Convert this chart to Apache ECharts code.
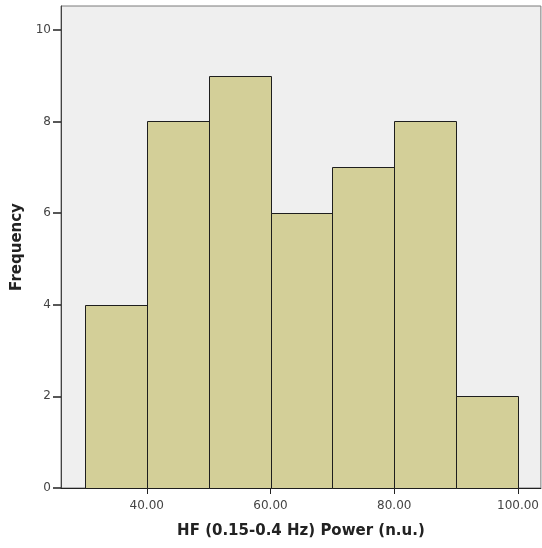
<!DOCTYPE html>
<html>
<head>
<meta charset="utf-8">
<script src="https://cdn.jsdelivr.net/npm/echarts@6/dist/echarts.min.js"></script>
<style>
  html, body { margin: 0; padding: 0; background: #ffffff; }
  #chart { width: 542px; height: 548px; }
</style>
</head>
<body>
<div id="chart"></div>
<script>
// Histogram bins: lower edge, upper edge, count
const binStarts = [30, 40, 50, 60, 70, 80, 90];
const binEnds = [40, 50, 60, 70, 80, 90, 100];
const frequencies = [4, 8, 9, 6, 7, 8, 2];

const xTicks = [40, 60, 80, 100];
const yTicks = [0, 2, 4, 6, 8, 10];

const xTitle = 'HF (0.15-0.4 Hz) Power (n.u.)';
const yTitle = 'Frequency';

const bins = binStarts.map((s, i) => [s, binEnds[i], frequencies[i]]);

const chart = echarts.init(document.getElementById('chart'), null, { renderer: 'canvas' });

chart.setOption({
  animation: false,
  backgroundColor: '#ffffff',
  grid: {
    left: 61, top: 6, right: -1, bottom: 60,
    show: true,
    backgroundColor: '#efefef',
    borderColor: '#7a7a7a',
    borderWidth: 1
  },
  xAxis: {
    type: 'value',
    min: 26.14,
    max: 103.7,
    name: xTitle,
    nameLocation: 'middle',
    nameGap: 36,
    nameTextStyle: { fontFamily: 'DejaVu Sans', fontWeight: 'bold', fontSize: 15, color: '#222' },
    axisLine: { show: true, onZero: false, lineStyle: { color: '#222', width: 1 } },
    axisTick: { show: true, customValues: xTicks, length: 6, lineStyle: { color: '#222' } },
    axisLabel: {
      customValues: xTicks,
      formatter: v => v.toFixed(2),
      fontFamily: 'DejaVu Sans', fontSize: 12, color: '#444', margin: 12
    },
    splitLine: { show: false }
  },
  yAxis: {
    type: 'value',
    min: 0,
    max: 10.52,
    name: yTitle,
    nameLocation: 'middle',
    nameGap: 35,
    nameTextStyle: { fontFamily: 'DejaVu Sans', fontWeight: 'bold', fontSize: 15, color: '#222' },
    axisLine: { show: true, lineStyle: { color: '#444', width: 1 } },
    axisTick: { show: true, customValues: yTicks, length: 8, lineStyle: { color: '#222', width: 1.5 } },
    axisLabel: {
      customValues: yTicks,
      fontFamily: 'DejaVu Sans', fontSize: 12, color: '#444', margin: 10
    },
    splitLine: { show: false }
  },
  series: [{
    type: 'custom',
    data: bins,
    encode: { x: [0, 1], y: 2 },
    renderItem: function (params, api) {
      const p0 = api.coord([api.value(0), 0]);
      const p1 = api.coord([api.value(1), api.value(2)]);
      const x = Math.round(p0[0]) + 0.5;
      const x2 = Math.round(p1[0]) + 0.5;
      const yTop = Math.round(p1[1]) + 0.5;
      const yBot = Math.round(p0[1]) + 0.5;
      return {
        type: 'rect',
        shape: { x: x, y: yTop, width: x2 - x, height: yBot - yTop },
        style: { fill: '#d3cf98', stroke: '#1e1e1e', lineWidth: 1 }
      };
    }
  }]
});
</script>
</body>
</html>
